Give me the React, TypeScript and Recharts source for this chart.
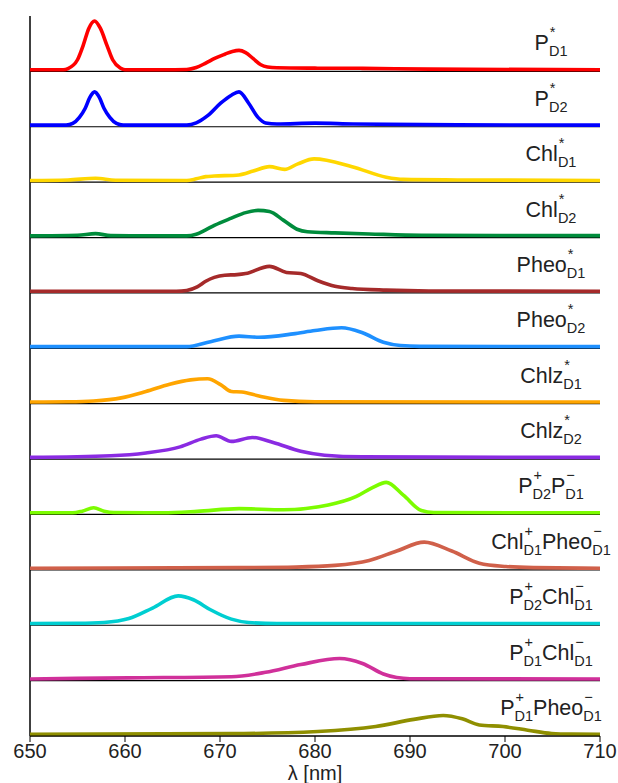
import React from 'react';
import { LineChart, Line, XAxis, YAxis, ReferenceLine } from 'recharts';

// wavelength (nm), relative amplitude within its panel
const pD1 = [[650,0],[653.5,0],[654,0.02],[655,0.18],[655.6,0.44],[656.2,0.75],[656.8,0.88],[657.4,0.75],[658.1,0.44],[658.7,0.18],[659.5,0.03],[660,0],[664,0],[666.5,0.005],[667.5,0.04],[668.5,0.12],[669.5,0.21],[670.5,0.28],[671.3,0.33],[672,0.35],[672.7,0.31],[673.5,0.2],[674.3,0.09],[675,0.05],[676,0.035],[680,0.028],[685,0.025],[692,0.01],[710,0]];
const pD2 = [[650,0],[653.8,0],[654.5,0.03],[655.2,0.14],[655.8,0.3],[656.3,0.5],[656.8,0.6],[657.3,0.5],[657.8,0.3],[658.4,0.14],[659.1,0.03],[659.8,0],[666.5,0],[667.5,0.04],[668.7,0.17],[670.1,0.4],[671.2,0.54],[672,0.6],[673,0.4],[674,0.14],[674.8,0.04],[676,0.02],[680,0.035],[684,0.02],[695,0.005],[710,0]];
const chlD1 = [[650,0],[654,0.01],[656.9,0.04],[659,0.005],[666.5,0],[667.5,0.03],[668.5,0.07],[669.4,0.08],[672,0.1],[673.5,0.17],[675.2,0.25],[676.8,0.2],[678.2,0.3],[679.9,0.39],[683.9,0.25],[687.5,0.06],[689.3,0.02],[695,0.01],[710,0]];
const chlD2 = [[650,0],[655,0.01],[656.9,0.04],[658.5,0.005],[666.5,0],[667.5,0.03],[668.5,0.11],[669.4,0.19],[671.2,0.32],[672.7,0.42],[674,0.46],[675.2,0.44],[676.7,0.28],[678.1,0.12],[679.2,0.075],[682.1,0.055],[685.7,0.035],[691.2,0.01],[710,0.005]];
const pheoD1 = [[650,0],[665.4,0],[666.5,0.015],[667.6,0.08],[668.5,0.18],[669.4,0.25],[670.5,0.29],[671.8,0.3],[672.7,0.32],[675.2,0.45],[677,0.34],[678.5,0.32],[680.3,0.19],[682.1,0.09],[683.9,0.05],[687.5,0.02],[692,0.005],[710,0]];
const pheoD2 = [[650,0],[666.5,0],[669,0.09],[672,0.19],[674.1,0.17],[677.7,0.23],[680,0.29],[682.8,0.34],[685,0.25],[687.2,0.08],[689,0.02],[691,0.005],[710,0]];
const chlzD1 = [[650,0],[654,0.005],[656.7,0.02],[659.6,0.075],[662.2,0.19],[664.7,0.32],[666.9,0.4],[668.7,0.42],[670.1,0.31],[671.2,0.19],[672.3,0.18],[674.1,0.11],[676.7,0.03],[680,0.005],[710,0]];
const chlzD2 = [[650,0],[658.5,0.03],[662.2,0.08],[665.8,0.19],[668,0.33],[669.6,0.39],[671.2,0.29],[673.4,0.36],[675.6,0.27],[678.5,0.11],[681,0.04],[685,0.01],[710,0]];
const pD2pD1 = [[650,0],[654.5,0],[655.5,0.03],[656.7,0.09],[657.8,0.03],[658.8,0.005],[664,0],[667.6,0.025],[672,0.075],[676.7,0.055],[681.4,0.14],[684.3,0.29],[686,0.45],[687.5,0.55],[689.3,0.32],[691.2,0.04],[692.5,0.005],[710,0]];
const chlPheo = [[650,0],[672,0.01],[678,0.02],[682.1,0.05],[685.7,0.14],[688.6,0.31],[691.5,0.47],[694.4,0.31],[697.3,0.09],[700.1,0.03],[703,0.01],[710,0]];
const pD2chl = [[650,0],[655,0.005],[657.8,0.02],[660.4,0.09],[662.9,0.28],[665.6,0.5],[667.2,0.43],[669,0.25],[671.2,0.08],[673,0.02],[676,0],[710,0]];
const pD1chl = [[650,0],[660.4,0.02],[671.2,0.04],[674.8,0.12],[678.5,0.26],[682.6,0.37],[685,0.28],[687.2,0.09],[688.6,0.025],[690,0.005],[710,0]];
const pD1pheo = [[650,0],[671.2,0.012],[680.3,0.05],[686.4,0.14],[690.4,0.27],[693.5,0.34],[695.5,0.28],[697.3,0.17],[699.8,0.14],[702.4,0.075],[704.9,0.015],[707,0.003],[710,0]];

const xTicks = [650, 660, 670, 680, 690, 700, 710];

type Seg = { b: string; sup: string; sub: string };
const labels: Seg[][] = [
  [{ b: 'P', sup: '*', sub: 'D1' }],
  [{ b: 'P', sup: '*', sub: 'D2' }],
  [{ b: 'Chl', sup: '*', sub: 'D1' }],
  [{ b: 'Chl', sup: '*', sub: 'D2' }],
  [{ b: 'Pheo', sup: '*', sub: 'D1' }],
  [{ b: 'Pheo', sup: '*', sub: 'D2' }],
  [{ b: 'Chlz', sup: '*', sub: 'D1' }],
  [{ b: 'Chlz', sup: '*', sub: 'D2' }],
  [{ b: 'P', sup: '+', sub: 'D2' }, { b: 'P', sup: '\u2212', sub: 'D1' }],
  [{ b: 'Chl', sup: '+', sub: 'D1' }, { b: 'Pheo', sup: '\u2212', sub: 'D1' }],
  [{ b: 'P', sup: '+', sub: 'D2' }, { b: 'Chl', sup: '\u2212', sub: 'D1' }],
  [{ b: 'P', sup: '+', sub: 'D1' }, { b: 'Chl', sup: '\u2212', sub: 'D1' }],
  [{ b: 'P', sup: '+', sub: 'D1' }, { b: 'Pheo', sup: '\u2212', sub: 'D1' }],
];

const seriesList = [pD1, pD2, chlD1, chlD2, pheoD1, pheoD2, chlzD1, chlzD2, pD2pD1, chlPheo, pD2chl, pD1chl, pD1pheo];
const colors = ['#ff0000', '#0000ff', '#ffd700', '#008c3c', '#a52a2a', '#1e90ff', '#ffa500', '#8a2be2', '#7cfc00', '#d0604a', '#00ced1', '#d0309a', '#8f8f00'];

const N = seriesList.length;
const FONT = '"Liberation Sans", Arial, sans-serif';

function PanelLabel({ viewBox, segs }: any) {
  const by = viewBox.y - 21;
  const cx = 551;
  const nodes: any[] = [];
  segs.forEach((s: Seg, j: number) => {
    const supW = s.sup === '*' ? 5.6 : 8.5;
    nodes.push(<tspan key={'b' + j} fontSize={21.5} dy={j === 0 ? 0 : -6}>{s.b}</tspan>);
    nodes.push(<tspan key={'p' + j} fontSize={14.5} dx={1} dy={-13}>{s.sup}</tspan>);
    nodes.push(<tspan key={'s' + j} fontSize={14.5} dx={-supW - 1} dy={19}>{s.sub}</tspan>);
  });
  return (
    <text x={cx} y={by} textAnchor="middle" fontFamily={FONT} fill="#222">
      {nodes}
    </text>
  );
}

export default function App() {
  return (
    <div style={{ position: 'absolute', left: 0, top: 0 }}>
      <LineChart width={618} height={783} margin={{ top: 16, left: 30, right: 18, bottom: 0 }}>
        <XAxis
          type="number"
          dataKey="x"
          domain={[650, 710]}
          ticks={xTicks}
          allowDuplicatedCategory={false}
          height={47}
          tickSize={6}
          tickMargin={2}
          axisLine={{ stroke: '#000', strokeWidth: 1.2 }}
          tickLine={{ stroke: '#000', strokeWidth: 1 }}
          tick={{ fontSize: 20, fill: '#222', fontFamily: FONT }}
          label={{ value: '\u03bb [nm]', position: 'insideBottom', offset: 3, fontSize: 20, fill: '#222', fontFamily: FONT }}
        />
        <YAxis type="number" domain={[0, N]} hide />
        <ReferenceLine x={650} stroke="#000" strokeWidth={1.5} />
        {seriesList.map((_, i) => (
          <ReferenceLine
            key={'r' + i}
            y={N - 1 - i}
            stroke="#000"
            strokeWidth={1.2}
            label={{ content: (p: any) => <PanelLabel {...p} segs={labels[i]} /> }}
          />
        ))}
        {seriesList.map((s, i) => (
          <Line
            key={'l' + i}
            data={s.map(([x, v]) => ({ x, y: N - 1 - i + 0.03 + v }))}
            dataKey="y"
            type="monotone"
            stroke={colors[i]}
            strokeWidth={3.6}
            dot={false}
            activeDot={false}
            isAnimationActive={false}
            strokeLinejoin="round"
          />
        ))}
      </LineChart>
    </div>
  );
}
